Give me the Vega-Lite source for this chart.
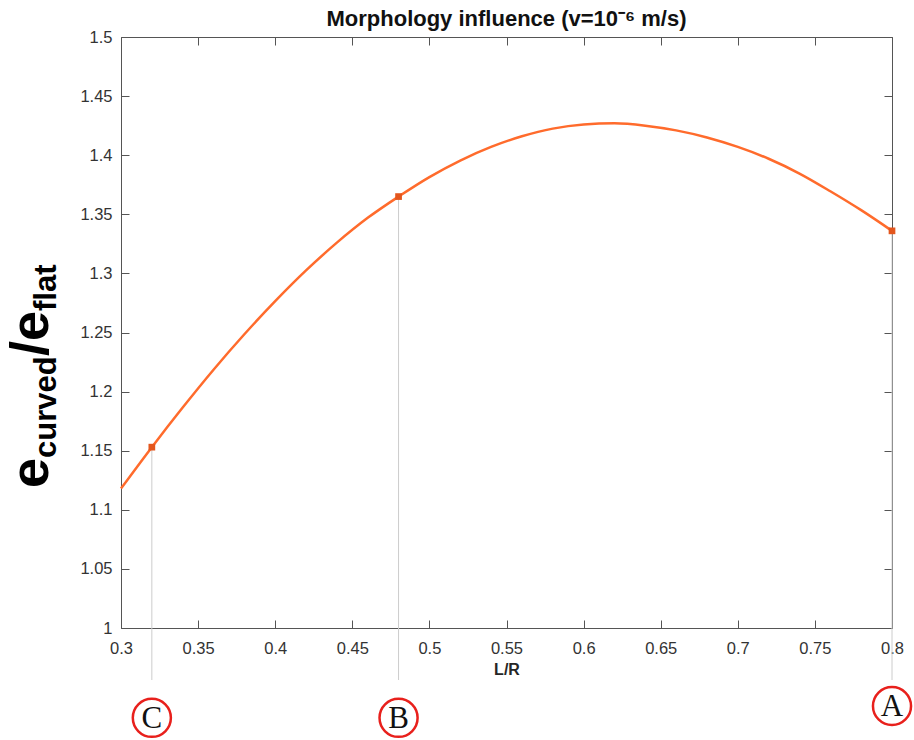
{
  "$schema": "https://vega.github.io/schema/vega-lite/v6.json",
  "autosize": "none",
  "width": 771,
  "height": 591,
  "padding": {"left": 121, "top": 37, "right": 22, "bottom": 112},
  "background": "white",
  "config": {
    "view": {"stroke": null},
    "font": "Liberation Sans",
    "axis": {
      "domainColor": "#555555",
      "domainWidth": 1,
      "tickColor": "#555555",
      "tickSize": -8,
      "grid": false,
      "labelFont": "Liberation Sans",
      "labelFontSize": 16.5,
      "labelColor": "#333333",
      "titleFont": "Liberation Sans",
      "titleFontSize": 16,
      "titleFontWeight": "bold",
      "titleColor": "#262626"
    }
  },
  "title": {
    "text": "Morphology influence (v=10⁻⁶ m/s)",
    "font": "Liberation Sans",
    "fontSize": 22,
    "fontWeight": "bold",
    "color": "#111111",
    "anchor": "middle",
    "offset": -2
  },
  "datasets": {
    "curve": [
      {"x": 0.30, "y": 1.118},
      {"x": 0.32, "y": 1.153},
      {"x": 0.34, "y": 1.1865},
      {"x": 0.36, "y": 1.2185},
      {"x": 0.38, "y": 1.2485},
      {"x": 0.40, "y": 1.2765},
      {"x": 0.42, "y": 1.3025},
      {"x": 0.44, "y": 1.326},
      {"x": 0.46, "y": 1.347},
      {"x": 0.48, "y": 1.365},
      {"x": 0.50, "y": 1.3815},
      {"x": 0.52, "y": 1.3955},
      {"x": 0.54, "y": 1.407},
      {"x": 0.56, "y": 1.416},
      {"x": 0.58, "y": 1.4225},
      {"x": 0.60, "y": 1.426},
      {"x": 0.62, "y": 1.427},
      {"x": 0.64, "y": 1.425},
      {"x": 0.66, "y": 1.421},
      {"x": 0.68, "y": 1.415},
      {"x": 0.70, "y": 1.407},
      {"x": 0.72, "y": 1.397},
      {"x": 0.74, "y": 1.3845},
      {"x": 0.76, "y": 1.3695},
      {"x": 0.78, "y": 1.3535},
      {"x": 0.80, "y": 1.336}
    ],
    "pts": [
      {"x": 0.32, "y": 1.153, "label": "C"},
      {"x": 0.48, "y": 1.365, "label": "B"},
      {"x": 0.80, "y": 1.336, "label": "A"}
    ],
    "one": [{}]
  },
  "layer": [
    {
      "data": {"name": "pts"},
      "mark": {"type": "rule", "color": "#cccccc", "strokeWidth": 1},
      "encoding": {
        "x": {"field": "x", "type": "quantitative", "scale": {"domain": [0.3, 0.8], "nice": false, "zero": false}, "axis": null},
        "y": {"field": "y", "type": "quantitative", "scale": {"domain": [1, 1.5], "nice": false, "zero": false}, "axis": null},
        "y2": {"datum": 0.956}
      }
    },
    {
      "data": {"name": "curve"},
      "mark": {"type": "line", "color": "#ff6b2c", "strokeWidth": 2.5, "interpolate": "monotone"},
      "encoding": {
        "x": {
          "field": "x", "type": "quantitative",
          "axis": {
            "orient": "bottom",
            "values": [0.3, 0.35, 0.4, 0.45, 0.5, 0.55, 0.6, 0.65, 0.7, 0.75, 0.8],
            "format": "~g",
            "labelPadding": 20,
            "labelFlush": false,
            "title": "L/R",
            "titlePadding": 5
          }
        },
        "y": {
          "field": "y", "type": "quantitative",
          "axis": {
            "orient": "left",
            "values": [1, 1.05, 1.1, 1.15, 1.2, 1.25, 1.3, 1.35, 1.4, 1.45, 1.5],
            "format": "~g",
            "labelPadding": 17,
            "labelFlush": false,
            "title": null
          }
        }
      }
    },
    {
      "data": {"name": "pts"},
      "mark": {"type": "point", "shape": "square", "filled": true, "color": "#e3561d", "size": 45, "opacity": 1},
      "encoding": {
        "x": {
          "field": "x", "type": "quantitative",
          "axis": {"orient": "top", "values": [0.3, 0.35, 0.4, 0.45, 0.5, 0.55, 0.6, 0.65, 0.7, 0.75, 0.8], "labels": false, "title": null}
        },
        "y": {
          "field": "y", "type": "quantitative",
          "axis": {"orient": "right", "values": [1, 1.05, 1.1, 1.15, 1.2, 1.25, 1.3, 1.35, 1.4, 1.45, 1.5], "labels": false, "title": null}
        }
      }
    },
    {
      "data": {"name": "pts"},
      "transform": [{"filter": "datum.label !== 'A'"}],
      "mark": {"type": "point", "shape": "circle", "filled": false, "stroke": "#e8201c", "strokeWidth": 2.5, "size": 1450, "opacity": 1},
      "encoding": {
        "x": {"field": "x", "type": "quantitative", "axis": null},
        "y": {"datum": 0.924, "axis": null}
      }
    },
    {
      "data": {"name": "pts"},
      "transform": [{"filter": "datum.label === 'A'"}],
      "mark": {"type": "point", "shape": "circle", "filled": false, "stroke": "#e8201c", "strokeWidth": 2.5, "size": 1450, "opacity": 1},
      "encoding": {
        "x": {"field": "x", "type": "quantitative", "axis": null},
        "y": {"datum": 0.934, "axis": null}
      }
    },
    {
      "data": {"name": "pts"},
      "transform": [{"filter": "datum.label !== 'A'"}],
      "mark": {"type": "text", "font": "Liberation Serif", "fontSize": 31, "color": "#111111", "baseline": "middle", "align": "center", "dy": 1},
      "encoding": {
        "x": {"field": "x", "type": "quantitative", "axis": null},
        "y": {"datum": 0.924, "axis": null},
        "text": {"field": "label"}
      }
    },
    {
      "data": {"name": "pts"},
      "transform": [{"filter": "datum.label === 'A'"}],
      "mark": {"type": "text", "font": "Liberation Serif", "fontSize": 31, "color": "#111111", "baseline": "middle", "align": "center", "dy": 1},
      "encoding": {
        "x": {"field": "x", "type": "quantitative", "axis": null},
        "y": {"datum": 0.934, "axis": null},
        "text": {"field": "label"}
      }
    },
    {
      "data": {"name": "one"},
      "mark": {"type": "text", "text": "e", "font": "Liberation Sans", "fontWeight": "bold", "fontSize": 54, "align": "left", "baseline": "alphabetic", "color": "#000000"},
      "encoding": {"x": {"datum": 0.25266, "axis": null}, "y": {"datum": 1.11844, "axis": null}, "angle": {"value": 270}}
    },
    {
      "data": {"name": "one"},
      "mark": {"type": "text", "text": "curved", "font": "Liberation Sans", "fontWeight": "bold", "fontSize": 31, "align": "left", "baseline": "alphabetic", "color": "#000000"},
      "encoding": {"x": {"datum": 0.25785, "axis": null}, "y": {"datum": 1.14382, "axis": null}, "angle": {"value": 270}}
    },
    {
      "data": {"name": "one"},
      "mark": {"type": "text", "text": "/e", "font": "Liberation Sans", "fontWeight": "bold", "fontSize": 54, "align": "left", "baseline": "alphabetic", "color": "#000000"},
      "encoding": {"x": {"datum": 0.25266, "axis": null}, "y": {"datum": 1.23012, "axis": null}, "angle": {"value": 270}}
    },
    {
      "data": {"name": "one"},
      "mark": {"type": "text", "text": "flat", "font": "Liberation Sans", "fontWeight": "bold", "fontSize": 31, "align": "left", "baseline": "alphabetic", "color": "#000000"},
      "encoding": {"x": {"datum": 0.25785, "axis": null}, "y": {"datum": 1.26819, "axis": null}, "angle": {"value": 270}}
    }
  ],
  "resolve": {"axis": {"x": "independent", "y": "independent"}}
}
